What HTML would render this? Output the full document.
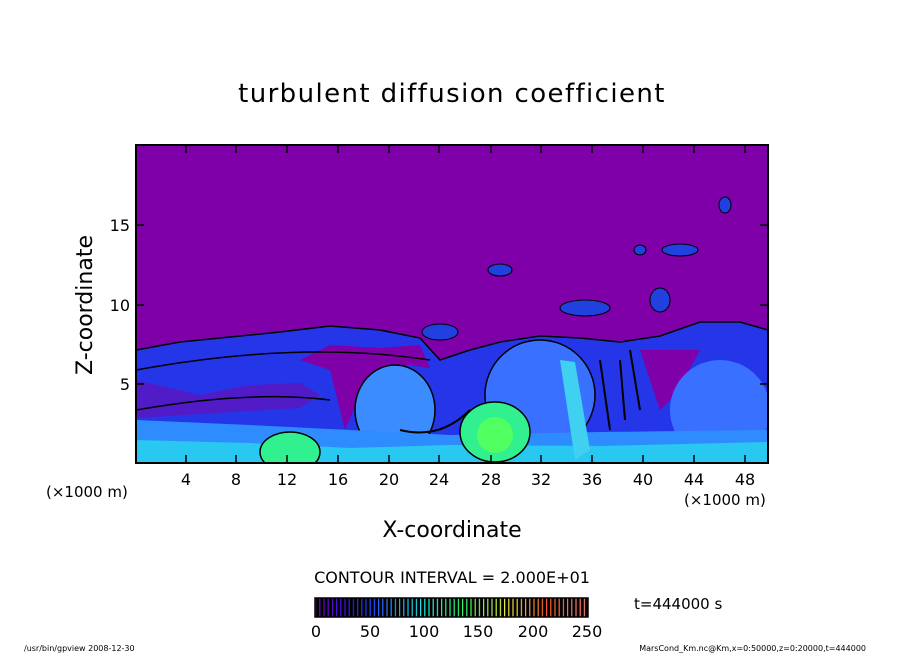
<!DOCTYPE html>
<html><head><meta charset="utf-8"><style>
body{margin:0;background:#fff;}
svg text{font-family:"DejaVu Sans","Liberation Sans",sans-serif;fill:#000;}
</style></head><body>
<svg width="904" height="654" viewBox="0 0 904 654" xmlns="http://www.w3.org/2000/svg">
<defs>
<clipPath id="pc"><rect x="136" y="145" width="632" height="318"/></clipPath>
<linearGradient id="cb" x1="0" x2="1" y1="0" y2="0">
<stop offset="0" stop-color="#8000c0"/><stop offset="0.15" stop-color="#2020ff"/>
<stop offset="0.3" stop-color="#20a0ff"/><stop offset="0.4" stop-color="#20f0e0"/>
<stop offset="0.55" stop-color="#30ff60"/><stop offset="0.7" stop-color="#f0f040"/>
<stop offset="0.85" stop-color="#ff6020"/><stop offset="1" stop-color="#ff8080"/>
</linearGradient>
<pattern id="st" x="315" y="0" width="4.2" height="10" patternUnits="userSpaceOnUse">
<rect x="1.2" y="0" width="3" height="10" fill="#000"/></pattern>
</defs>
<text x="452" y="102" font-size="26" text-anchor="middle" letter-spacing="1.4">turbulent diffusion coefficient</text>
<g clip-path="url(#pc)">
<rect x="136" y="145" width="632" height="318" fill="#7f00a8"/>
<path d="M136,350 L180,342 L230,337 L280,332 L330,326 L380,330 L420,338 L440,360 L470,350 L500,342 L540,336 L580,338 L620,342 L660,336 L700,322 L740,322 L768,330 L768,463 L136,463Z" fill="#2436e8" stroke="#000" stroke-width="1.5"/>
<path d="M300,360 L330,370 L345,430 L360,395 L380,368 L410,365 L430,368 L420,345 L380,348 L330,345Z" fill="#7f00a8"/>
<path d="M136,380 L200,395 L250,385 L300,383 L320,395 L300,408 L136,418Z" fill="#7f00a8" opacity="0.5"/>
<path d="M640,350 L660,410 L675,395 L700,350Z" fill="#7f00a8"/>
<ellipse cx="395" cy="410" rx="40" ry="45" fill="#3a8cff" stroke="#000" stroke-width="1.5"/>
<ellipse cx="540" cy="395" rx="55" ry="55" fill="#3a70ff" stroke="#000" stroke-width="1.5"/>
<ellipse cx="720" cy="410" rx="50" ry="50" fill="#3a70ff"/>
<path d="M136,420 L250,425 L350,430 L450,435 L600,432 L768,430 L768,463 L136,463Z" fill="#2f8cff"/>
<path d="M136,440 L250,443 L350,448 L450,445 L600,446 L768,442 L768,463 L136,463Z" fill="#28c8f0"/>
<path d="M560,360 L575,362 L590,450 L575,460Z" fill="#40d0f0"/>
<ellipse cx="290" cy="452" rx="30" ry="20" fill="#30f090" stroke="#000" stroke-width="1.5"/>
<ellipse cx="495" cy="432" rx="35" ry="30" fill="#30f090" stroke="#000" stroke-width="1.5"/>
<ellipse cx="495" cy="435" rx="18" ry="18" fill="#50ff60"/>
<ellipse cx="585" cy="308" rx="25" ry="8" fill="#2040e0" stroke="#000"/>
<ellipse cx="440" cy="332" rx="18" ry="8" fill="#2040e0" stroke="#000"/>
<ellipse cx="500" cy="270" rx="12" ry="6" fill="#2040e0" stroke="#000"/>
<ellipse cx="680" cy="250" rx="18" ry="6" fill="#2040e0" stroke="#000"/>
<ellipse cx="725" cy="205" rx="6" ry="8" fill="#2040e0" stroke="#000"/>
<ellipse cx="660" cy="300" rx="10" ry="12" fill="#2040e0" stroke="#000"/>
<ellipse cx="640" cy="250" rx="6" ry="5" fill="#2040e0" stroke="#000"/>
<path d="M136,370 Q300,340 430,360" fill="none" stroke="#000" stroke-width="1.5"/>
<path d="M136,410 Q250,390 330,400" fill="none" stroke="#000" stroke-width="1.5"/>
<path d="M400,430 Q440,440 470,410" fill="none" stroke="#000" stroke-width="2"/>
<path d="M600,360 L610,430 M620,360 L625,420 M630,350 L640,410" stroke="#000" stroke-width="2"/>
</g>
<rect x="136" y="145" width="632" height="318" fill="none" stroke="#000" stroke-width="2"/>
<g stroke="#000" stroke-width="1.5">
<path d="M186,145v8M236,145v8M287,145v8M338,145v8M389,145v8M439,145v8M491,145v8M541,145v8M592,145v8M643,145v8M694,145v8M745,145v8"/>
<path d="M186,463v-8M236,463v-8M287,463v-8M338,463v-8M389,463v-8M439,463v-8M491,463v-8M541,463v-8M592,463v-8M643,463v-8M694,463v-8M745,463v-8"/>
<path d="M136,225h8M136,305h8M136,384h8M768,225h-8M768,305h-8M768,384h-8"/>
</g>
<g font-size="16" text-anchor="middle">
<text x="186" y="485">4</text><text x="236" y="485">8</text><text x="287" y="485">12</text><text x="338" y="485">16</text><text x="389" y="485">20</text><text x="439" y="485">24</text><text x="491" y="485">28</text><text x="541" y="485">32</text><text x="592" y="485">36</text><text x="643" y="485">40</text><text x="694" y="485">44</text><text x="745" y="485">48</text>
</g>
<g font-size="16" text-anchor="end">
<text x="130" y="231">15</text><text x="130" y="311">10</text><text x="130" y="390">5</text>
</g>
<text x="46" y="497" font-size="15">(×1000 m)</text>
<text x="684" y="505" font-size="15">(×1000 m)</text>
<text x="452" y="537" font-size="22" text-anchor="middle">X-coordinate</text>
<text transform="translate(92,305) rotate(-90)" font-size="22" text-anchor="middle">Z-coordinate</text>
<text x="452" y="583" font-size="16" text-anchor="middle">CONTOUR INTERVAL = 2.000E+01</text>
<rect x="315" y="598" width="273" height="19" fill="url(#cb)"/>
<rect x="315" y="598" width="273" height="19" fill="url(#st)"/>
<rect x="315" y="598" width="273" height="19" fill="none" stroke="#000" stroke-width="1.5"/>
<g font-size="16" text-anchor="middle">
<text x="316" y="637">0</text><text x="370" y="637">50</text><text x="424" y="637">100</text><text x="478" y="637">150</text><text x="533" y="637">200</text><text x="587" y="637">250</text>
</g>
<text x="634" y="609" font-size="15">t=444000 s</text>
<text x="24" y="651" font-size="8">/usr/bin/gpview  2008-12-30</text>
<text x="866" y="651" font-size="8" text-anchor="end">MarsCond_Km.nc@Km,x=0:50000,z=0:20000,t=444000</text>
</svg>
</body></html>
